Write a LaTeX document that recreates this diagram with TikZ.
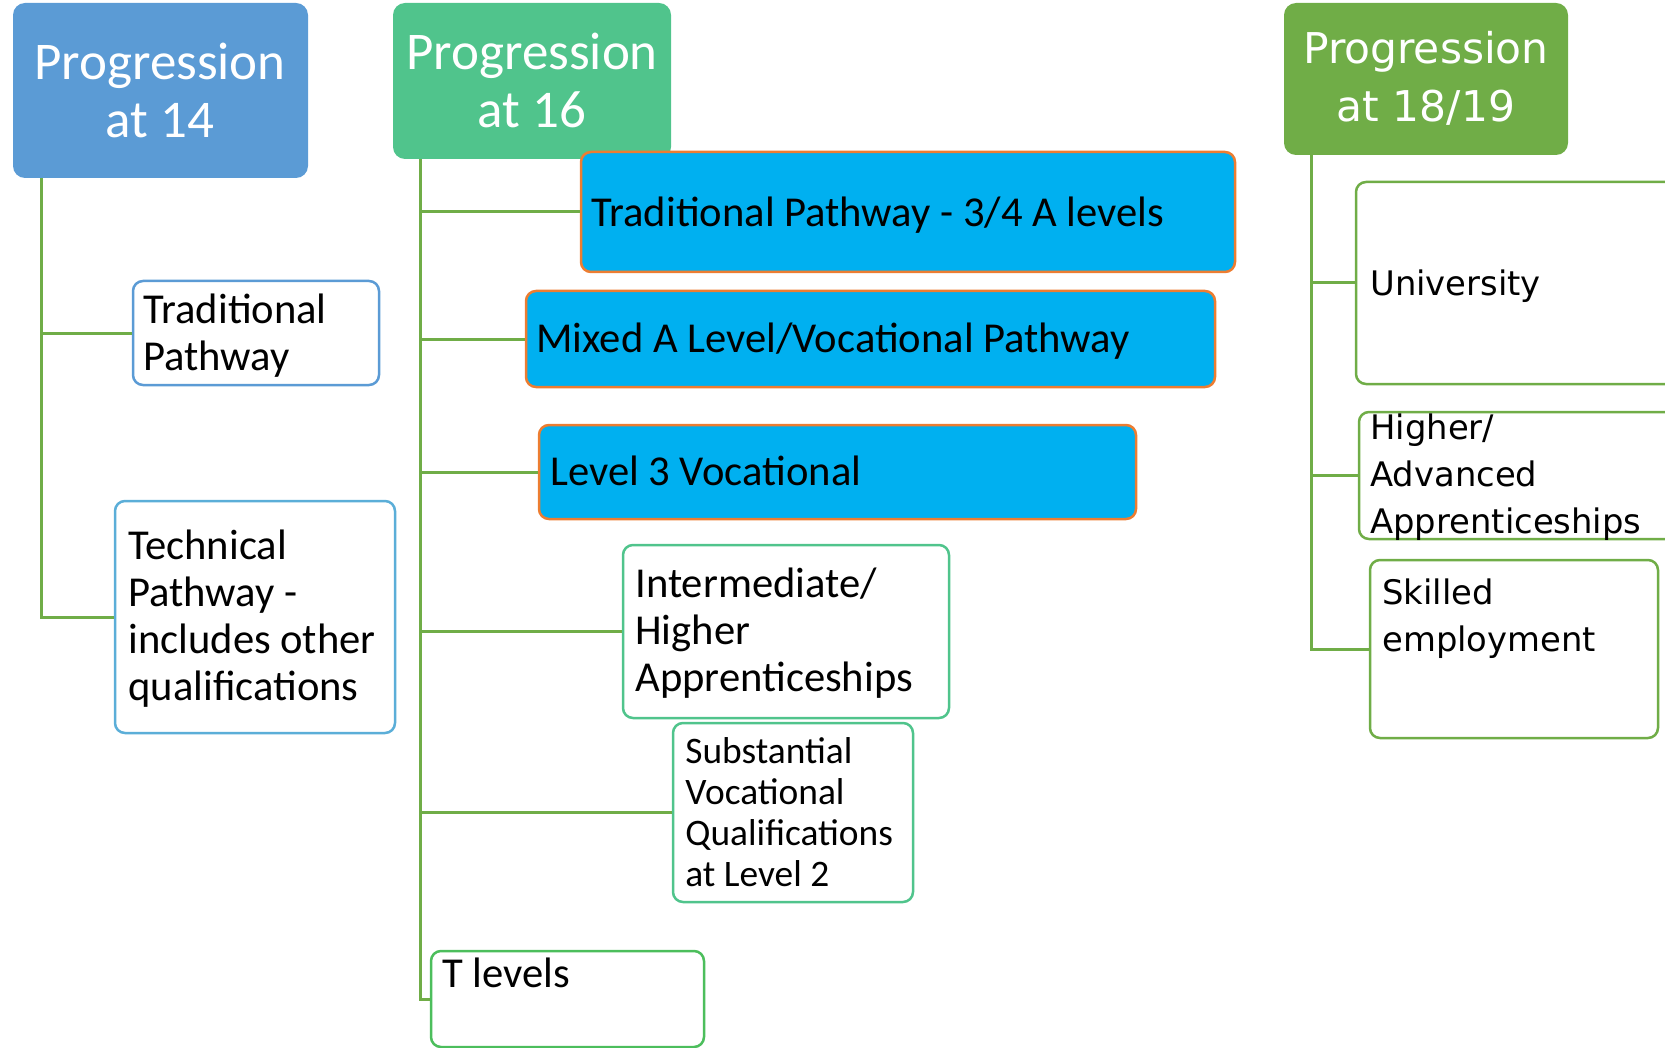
\documentclass[tikz,border=0pt]{standalone}
\usepackage{fontspec}
\setmainfont{Carlito}
\newfontfamily\widefont{DejaVu Sans}
\usetikzlibrary{fit}
\definecolor{hdrA}{HTML}{5B9BD5}
\definecolor{hdrB}{HTML}{50C48C}
\definecolor{hdrC}{HTML}{70AD47}
\definecolor{lineg}{HTML}{70AD47}
\definecolor{cyanfill}{HTML}{00B0F0}
\definecolor{orangeb}{HTML}{ED7D31}
\definecolor{techb}{HTML}{5BAED8}
\definecolor{tgreen}{HTML}{4CBE5C}
\begin{document}
\begin{tikzpicture}[x=0.5pt,y=-0.5pt,
  hdr/.style={draw=none,rounded corners=6pt,inner sep=0pt},
  box/.style={draw,line width=1.25pt,rounded corners=5pt,inner sep=0pt,fill=white},
  bluebox/.style={box,fill=cyanfill,draw=orangeb},
  conn/.style={draw=lineg,line width=1.5pt},
  htxt/.style={text=white,align=center,inner sep=0pt,font=\fontsize{26.5}{29}\selectfont},
  txt/.style={anchor=west,align=left,inner sep=0pt,font=\fontsize{21.3}{23.5}\selectfont},
  wtxt/.style={anchor=west,align=left,inner sep=0pt,font=\widefont\fontsize{16.9}{23.5}\selectfont}]
\useasboundingbox (0,0) rectangle (1665,1048);
\clip (0,0) rectangle (1665,1048);
% headers
\node[hdr,fill=hdrA,fit={(13,3)(308,178)}] (hA) {};
\node[hdr,fill=hdrB,fit={(393,3)(671,159)}] (hB) {};
\node[hdr,fill=hdrC,fit={(1284,3)(1568,155)}] (hC) {};
\node[htxt] (hAt) at (160,90) {Progression\\at 14};
\node[htxt] (hBt) at (532,80) {Progression\\at 16};
\node[htxt,font=\widefont\fontsize{21.2}{29}\selectfont] (hCt) at (1426,78) {Progression\\at 18/19};
% trunk coordinates
\coordinate (ta) at (41,0);
\coordinate (tb) at (420,0);
\coordinate (tc) at (1311,0);
% left column boxes
\node[box,draw=hdrA,fit={(133,281)(379,385)}] (trad) {};
\node[box,draw=techb,fit={(115,501)(395,733)}] (tech) {};
% middle column boxes
\node[box,draw=hdrB,fit={(623,545)(949,718)}] (inter) {};
\node[box,draw=hdrB,fit={(673,723)(913,902)}] (subst) {};
\node[box,draw=tgreen,fit={(431,951)(704,1047)}] (tlev) {};
% right column boxes
\node[box,draw=hdrC,fit={(1356,182)(1690,384)}] (uni) {};
\node[box,draw=hdrC,fit={(1359,412)(1690,539)}] (highr) {};
\node[box,draw=hdrC,fit={(1370,560)(1658,738)}] (skill) {};
% connectors
\draw[conn] (hA.south -| ta) |- (trad.west);
\draw[conn] (hA.south -| ta) |- (tech.west);
\draw[conn] (hB.south -| tb) |- (tlev.west);
\draw[conn] (hC.south -| tc) |- (skill.west);
\draw[conn] (hC.south -| tc) |- (uni.west);
\draw[conn] (hC.south -| tc) |- (highr.west);
% blue boxes drawn over header B
\node[bluebox,fit={(581,152)(1235,272)}] (trad34) {};
\node[bluebox,fit={(526,291)(1215,387)}] (mixed) {};
\node[bluebox,fit={(539,425)(1136,519)}] (lev3) {};
\draw[conn] (hB.south -| tb) |- (trad34.west);
\draw[conn] (hB.south -| tb) |- (mixed.west);
\draw[conn] (hB.south -| tb) |- (lev3.west);
\draw[conn] (hB.south -| tb) |- (inter.west);
\draw[conn] (hB.south -| tb) |- (subst.west);
% texts
\node[txt] (tradt) at (143,336) {Traditional\\Pathway};
\node[txt] (techt) at (128,619) {Technical\\Pathway -\\includes other\\qualifications};
\node[txt] (trad34t) at (591,215) {Traditional Pathway - 3/4 A levels};
\node[txt] (mixedt) at (536,341) {Mixed A Level/Vocational Pathway};
\node[txt] (lev3t) at (550,471) {Level 3 Vocational};
\node[txt] (intert) at (635,633) {Intermediate/\\Higher\\Apprenticeships};
\node[txt,font=\fontsize{18.7}{20.5}\selectfont] (substt) at (685,812) {Substantial\\Vocational\\Qualifications\\at Level 2};
\node[txt] (tlevt) at (442,973) {T levels};
\node[wtxt] (unit) at (1370,286) {University};
\node[wtxt] (highrt) at (1370,477) {Higher/\\Advanced\\Apprenticeships};
\node[wtxt] (skillt) at (1382,619) {Skilled\\employment};
\end{tikzpicture}
\end{document}
